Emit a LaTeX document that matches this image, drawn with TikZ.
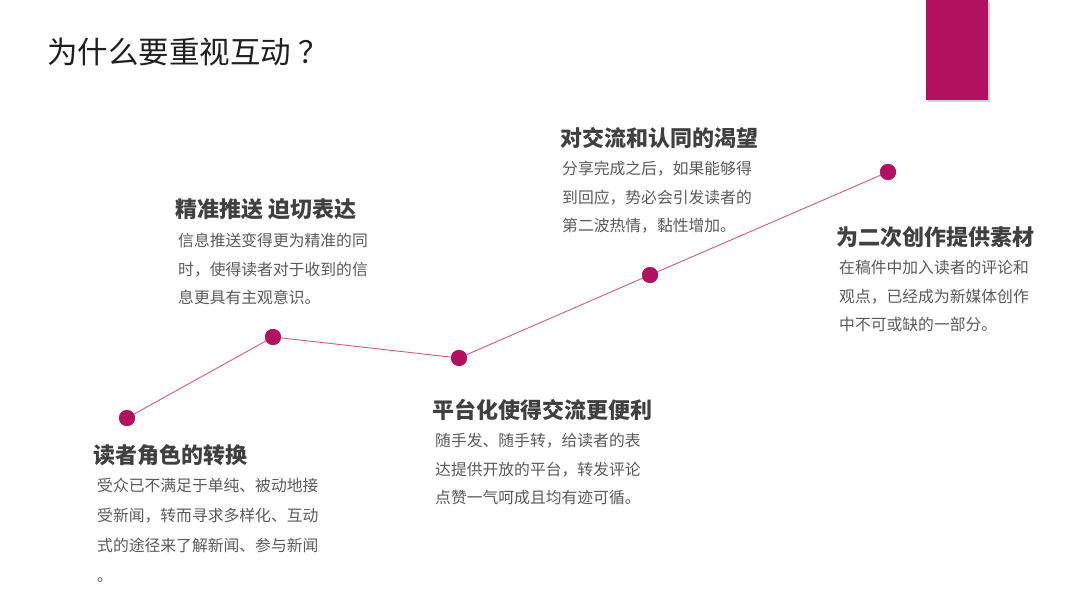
\documentclass[tikz,border=0pt]{standalone}
\usepackage{fontspec}
\setmainfont{Noto Sans CJK SC}
\newfontfamily\cjk{Noto Sans CJK SC}
\definecolor{mag}{HTML}{B0125F}
\definecolor{linec}{HTML}{CF5A86}
\definecolor{headc}{HTML}{404040}
\definecolor{bodyc}{HTML}{5A5A5A}
\begin{document}
\begin{tikzpicture}[x=1pt,y=-1pt,
  dot/.style={circle,fill=mag,minimum size=16pt,inner sep=0pt},
  head/.style={anchor=base west,inner sep=0pt,text=headc,font=\cjk\bfseries\fontsize{22}{24}\selectfont},
  body/.style={anchor=north west,inner sep=0pt,align=left,text=bodyc,font=\cjk\fontsize{15.8}{28.6}\selectfont},
  bodywide/.style={body,font=\cjk\fontsize{15.8}{30}\selectfont},
  title/.style={anchor=base west,inner sep=0pt,text=black!88,font=\cjk\fontsize{30.5}{32}\selectfont}]
\useasboundingbox (0,0) rectangle (1080,605);
\fill[white] (0,0) rectangle (1080,605);
% top-right bar
\fill[black!18] (928,2) rectangle (990,102);
\fill[mag] (926,0) rectangle (988,100);
\node[title] (t) at (47,63) {为什么要重视互动\hspace{0.25em}？};
% points
\node[dot] (p1) at (127,418) {};
\node[dot] (p2) at (273,337) {};
\node[dot] (p3) at (459,358) {};
\node[dot] (p4) at (650,275) {};
\node[dot] (p5) at (888,172) {};
\draw[linec,line width=0.9pt] (p1.center) -- (p2.center) -- (p3.center) -- (p4.center) -- (p5.center);
\foreach \p in {p1,p2,p3,p4,p5} \node[dot] at (\p) {};
% block 1
\node[head] (h1) at (93,463) {读者角色的转换};
\node[bodywide] (b1) at (97,478) {受众已不满足于单纯、被动地接\\受新闻，转而寻求多样化、互动\\式的途径来了解新闻、参与新闻\\。};
% block 2
\node[head] (h2) at (175,217) {精准推送 迫切表达};
\node[body] (b2) at (178,233) {信息推送变得更为精准的同\\时，使得读者对于收到的信\\息更具有主观意识。};
% block 3
\node[head] (h3) at (432,418) {平台化使得交流更便利};
\node[body] (b3) at (435,433) {随手发、随手转，给读者的表\\达提供开放的平台，转发评论\\点赞一气呵成且均有迹可循。};
% block 4
\node[head] (h4) at (560,146) {对交流和认同的渴望};
\node[body] (b4) at (562,161) {分享完成之后，如果能够得\\到回应，势必会引发读者的\\第二波热情，黏性增加。};
% block 5
\node[head] (h5) at (836,245) {为二次创作提供素材};
\node[body] (b5) at (839,260) {在稿件中加入读者的评论和\\观点，已经成为新媒体创作\\中不可或缺的一部分。};
\end{tikzpicture}
\end{document}
